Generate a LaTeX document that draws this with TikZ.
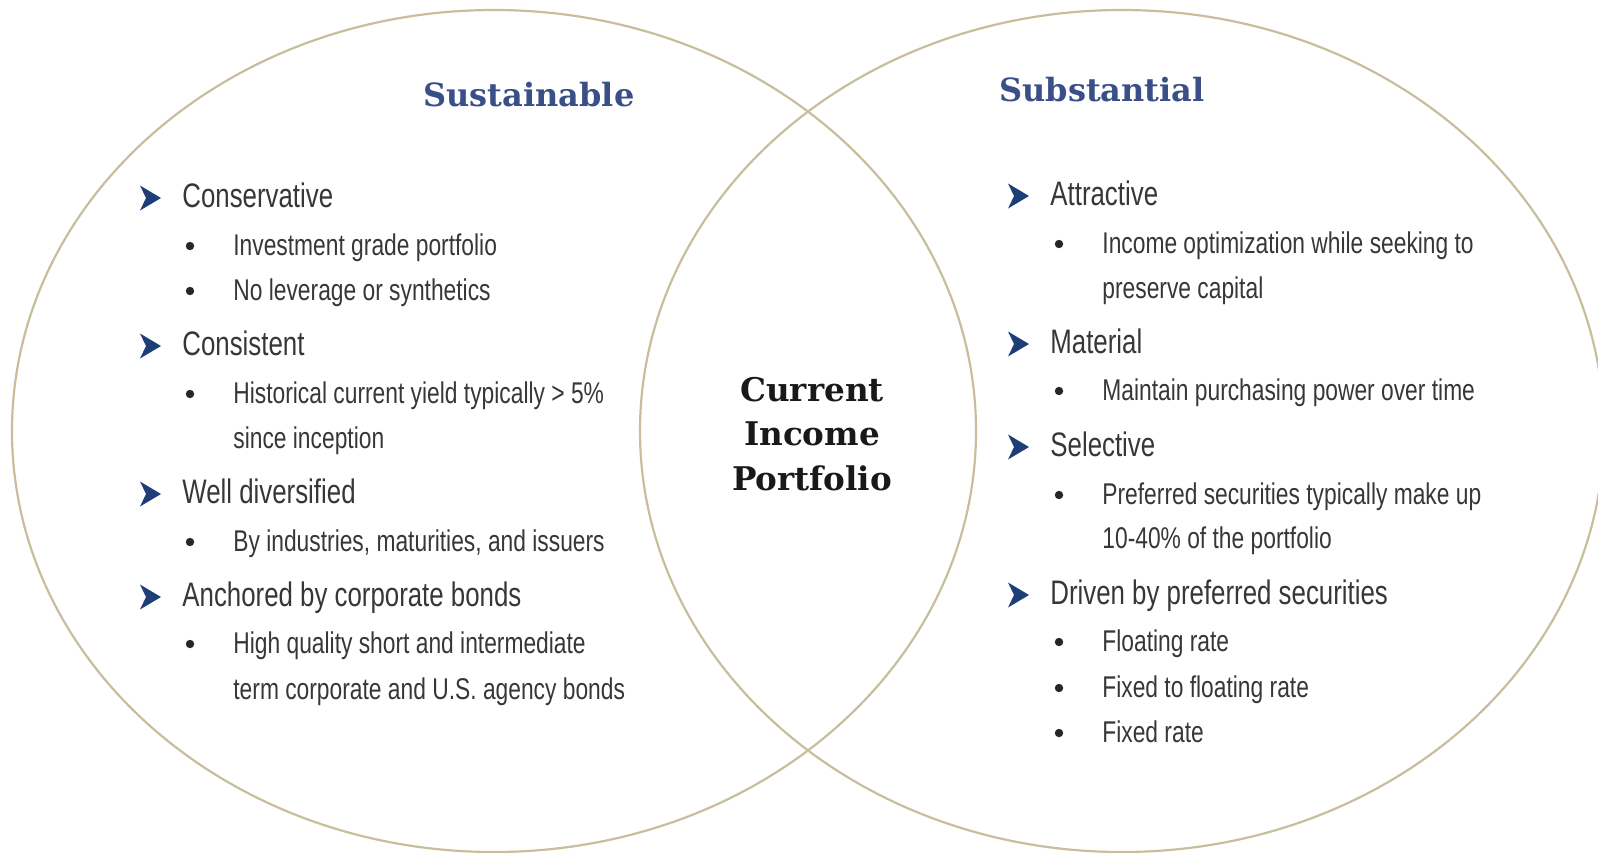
\documentclass[tikz,border=0pt]{standalone}
\usepackage{fontspec}
\newfontfamily\bodyfont[FakeStretch=0.76]{Liberation Sans}
\newfontfamily\headfont{DejaVu Serif}
\definecolor{rim}{RGB}{200,190,158}
\definecolor{headblue}{RGB}{58,78,135}
\definecolor{arrowblue}{RGB}{30,62,120}
\definecolor{bodygray}{RGB}{55,55,55}
\tikzset{
  head/.style={font=\headfont\bfseries\fontsize{16}{18}\selectfont, text=headblue},
  core/.style={align=center, font=\headfont\bfseries\fontsize{16.3}{22.3}\selectfont, text=black!90},
  point/.style={anchor=west, inner sep=0pt, text height=0.72em, text depth=0pt, yshift=-2pt,
    font=\bodyfont\fontsize{17}{20}\selectfont, text=bodygray},
  subpoint/.style={point, font=\bodyfont\fontsize{15}{18}\selectfont},
  dot/.style={circle, fill=black!85, inner sep=0pt, minimum size=4.2pt, yshift=-1pt},
  chevron/.pic={\fill[arrowblue] (-10,-10.5) -- (11,2) -- (-10,14.5) -- (-4,2) -- cycle;}
}
\begin{document}
\begin{tikzpicture}[x=0.5pt,y=-0.5pt]
  \useasboundingbox (0,0) rectangle (1598,852);
  % the two circles
  \draw[rim, line width=1.1pt] (494,431) ellipse [x radius=241pt, y radius=210.5pt];
  \draw[rim, line width=1.1pt] (1122,431) ellipse [x radius=241pt, y radius=210.5pt];
  \node[head] (sust) at (529,95) {Sustainable};
  \node[head] (subst) at (1102,90) {Substantial};
  \node[core] (cip) at (812,434) {Current\\Income\\Portfolio};

  % left side
  \pic at (150,196) {chevron};
  \node[point] (cons) at (182,196) {Conservative};
  \node[dot] at (190,244) {}; \node[subpoint] (cons-a) at (233,244) {Investment grade portfolio};
  \node[dot] at (190,289) {}; \node[subpoint] (cons-b) at (233,289) {No leverage or synthetics};
  \pic at (150,344) {chevron};
  \node[point] (consist) at (182,344) {Consistent};
  \node[dot] at (190,392) {}; \node[subpoint] (consist-a) at (233,392) {Historical current yield typically > 5\%};
  \node[subpoint] (consist-b) at (233,437) {since inception};
  \pic at (150,492) {chevron};
  \node[point] (divers) at (182,492) {Well diversified};
  \node[dot] at (190,540) {}; \node[subpoint] (divers-a) at (233,540) {By industries, maturities, and issuers};
  \pic at (150,595) {chevron};
  \node[point] (anch) at (182,595) {Anchored by corporate bonds};
  \node[dot] at (190,642) {}; \node[subpoint] (anch-a) at (233,642) {High quality short and intermediate};
  \node[subpoint] (anch-b) at (233,688) {term corporate and U.S. agency bonds};

  % right side
  \pic at (1018,194) {chevron};
  \node[point] (attr) at (1050,194) {Attractive};
  \node[dot] at (1059,242) {}; \node[subpoint] (attr-a) at (1102,242) {Income optimization while seeking to};
  \node[subpoint] (attr-b) at (1102,287) {preserve capital};
  \pic at (1018,342) {chevron};
  \node[point] (mat) at (1050,342) {Material};
  \node[dot] at (1059,389) {}; \node[subpoint] (mat-a) at (1102,389) {Maintain purchasing power over time};
  \pic at (1018,445) {chevron};
  \node[point] (sel) at (1050,445) {Selective};
  \node[dot] at (1059,493) {}; \node[subpoint] (sel-a) at (1102,493) {Preferred securities typically make up};
  \node[subpoint] (sel-b) at (1102,537) {10-40\% of the portfolio};
  \pic at (1018,593) {chevron};
  \node[point] (drv) at (1050,593) {Driven by preferred securities};
  \node[dot] at (1059,640) {}; \node[subpoint] (drv-a) at (1102,640) {Floating rate};
  \node[dot] at (1059,686) {}; \node[subpoint] (drv-b) at (1102,686) {Fixed to floating rate};
  \node[dot] at (1059,731) {}; \node[subpoint] (drv-c) at (1102,731) {Fixed rate};
\end{tikzpicture}
\end{document}
